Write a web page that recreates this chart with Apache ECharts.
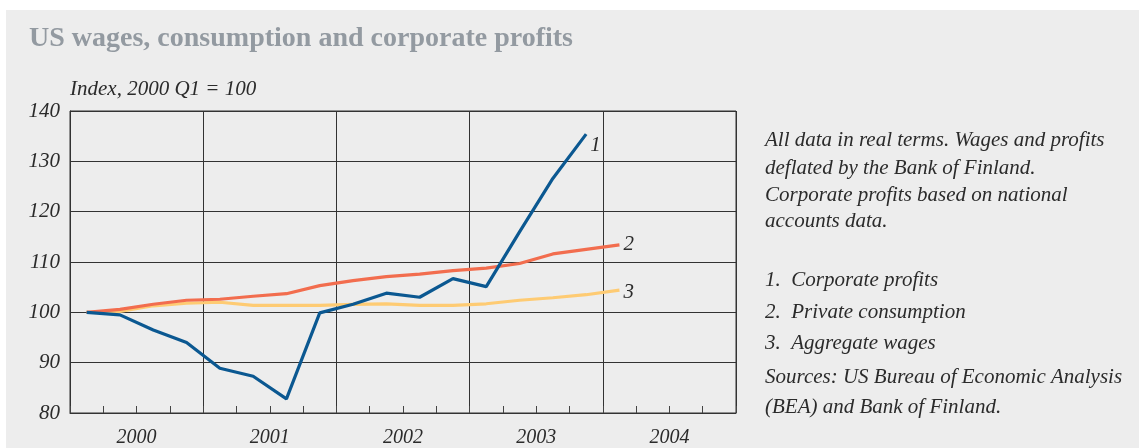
<!DOCTYPE html>
<html lang="en">
  <head>
    <meta charset="UTF-8" />
    <title>US wages, consumption and corporate profits</title>
    <script src="https://cdn.jsdelivr.net/npm/echarts@6.0.0/dist/echarts.min.js"></script>
    <style>
      body {
        margin: 0;
        background-color: #ffffff;
      }
      /* grey panel, white strip on top and left like the original */
      #main {
        position: absolute;
        left: 6px;
        top: 10px;
        width: 1133px;
        height: 438px;
        background-color: #ededed;
      }
    </style>
  </head>
  <body>
    <div id="main"></div>
    <script>
      // quarters 2000Q1 .. 2004Q4
      const years = ["2000", "2001", "2002", "2003", "2004"];
      const quarters = [];
      years.forEach(y => ["Q1", "Q2", "Q3", "Q4"].forEach(q => quarters.push(y + q)));

      // 1. Corporate profits (2000Q1 .. 2003Q4)
      const corporateProfits = [100.0, 99.5, 96.5, 94.0, 88.9, 87.3, 82.8, 99.9,
        101.6, 103.8, 103.0, 106.7, 105.1, 116.0, 126.6, 135.4];
      // 2. Private consumption (2000Q1 .. 2004Q1)
      const privateConsumption = [100.0, 100.6, 101.6, 102.4, 102.6, 103.2, 103.7, 105.3,
        106.3, 107.1, 107.6, 108.3, 108.8, 109.7, 111.6, 112.5, 113.4];
      // 3. Aggregate wages (2000Q1 .. 2004Q1)
      const aggregateWages = [100.0, 100.2, 101.3, 101.8, 102.0, 101.4, 101.4, 101.4,
        101.6, 101.7, 101.4, 101.4, 101.7, 102.4, 102.9, 103.5, 104.4];

      const noteLines = [
        "All data in real terms. Wages and profits",
        "deflated by the Bank of Finland.",
        "Corporate profits based on national",
        "accounts data."
      ];
      const legendLines = [
        "1.  Corporate profits",
        "2.  Private consumption",
        "3.  Aggregate wages",
        "Sources: US Bureau of Economic Analysis",
        "(BEA) and Bank of Finland."
      ];

      const serif = "'Liberation Serif', 'DejaVu Serif', serif";
      const ink = "#2b2b2b";

      const chart = echarts.init(document.getElementById("main"));

      const textEl = (txt, x, y, size, extra) => ({
        type: "text",
        left: x,
        top: y - size * 0.6,
        style: Object.assign({
          text: txt,
          fill: ink,
          fontFamily: serif,
          fontStyle: "italic",
          fontSize: size
        }, extra || {})
      });

      const graphics = [
        textEl("US wages, consumption and corporate profits", 23, 32, 28,
          { fill: "#939aa1", fontStyle: "normal", fontWeight: "bold" }),
        textEl("Index, 2000 Q1 = 100", 64, 82, 21)
      ];
      const noteY = [133, 161, 188, 214];
      noteLines.forEach((t, i) => graphics.push(textEl(t, 759, noteY[i], 21)));
      const legendY = [273, 305, 336, 370, 400];
      legendLines.forEach((t, i) => graphics.push(textEl(t, 759, legendY[i], 21)));

      const lineSeries = (name, data, color, label, offset) => ({
        name: name,
        type: "line",
        data: data,
        xAxisIndex: 0,
        symbol: "none",
        smooth: false,
        lineStyle: { color: color, width: 3.2 },
        z: 3,
        endLabel: {
          show: true,
          formatter: label,
          distance: 4,
          offset: offset,
          color: ink,
          fontFamily: serif,
          fontStyle: "italic",
          fontSize: 21
        }
      });

      const option = {
        animation: false,
        grid: {
          left: 64,
          top: 101,
          right: 403,
          bottom: 35,
          show: true,
          borderColor: "#333",
          borderWidth: 1,
          backgroundColor: "transparent"
        },
        xAxis: [
          {
            type: "category",
            data: quarters,
            boundaryGap: true,
            axisLine: { show: true, lineStyle: { color: "#333", width: 1 } },
            axisTick: { show: true, inside: true, length: 7, interval: 0, lineStyle: { color: "#444" } },
            axisLabel: { show: false },
            splitLine: { show: false }
          },
          {
            type: "category",
            data: years,
            position: "bottom",
            boundaryGap: true,
            axisLine: { show: false },
            axisTick: { show: false },
            axisLabel: {
              margin: 15,
              color: ink,
              fontFamily: serif,
              fontStyle: "italic",
              fontSize: 20
            },
            splitLine: { show: true, interval: 0, lineStyle: { color: "#333", width: 1 } }
          }
        ],
        yAxis: {
          type: "value",
          min: 80,
          max: 140,
          interval: 10,
          axisLine: { show: true, lineStyle: { color: "#333" } },
          axisTick: { show: false },
          axisLabel: {
            margin: 10,
            color: ink,
            fontFamily: serif,
            fontStyle: "italic",
            fontSize: 21
          },
          splitLine: { show: true, lineStyle: { color: "#333", width: 1 } }
        },
        graphic: graphics,
        series: [
          lineSeries("Aggregate wages", aggregateWages, "#fecb73", "3", [0, 2]),
          lineSeries("Private consumption", privateConsumption, "#f26d4e", "2", [0, 0]),
          lineSeries("Corporate profits", corporateProfits, "#0b5891", "1", [0, 11])
        ]
      };

      chart.setOption(option);
    </script>
  </body>
</html>
